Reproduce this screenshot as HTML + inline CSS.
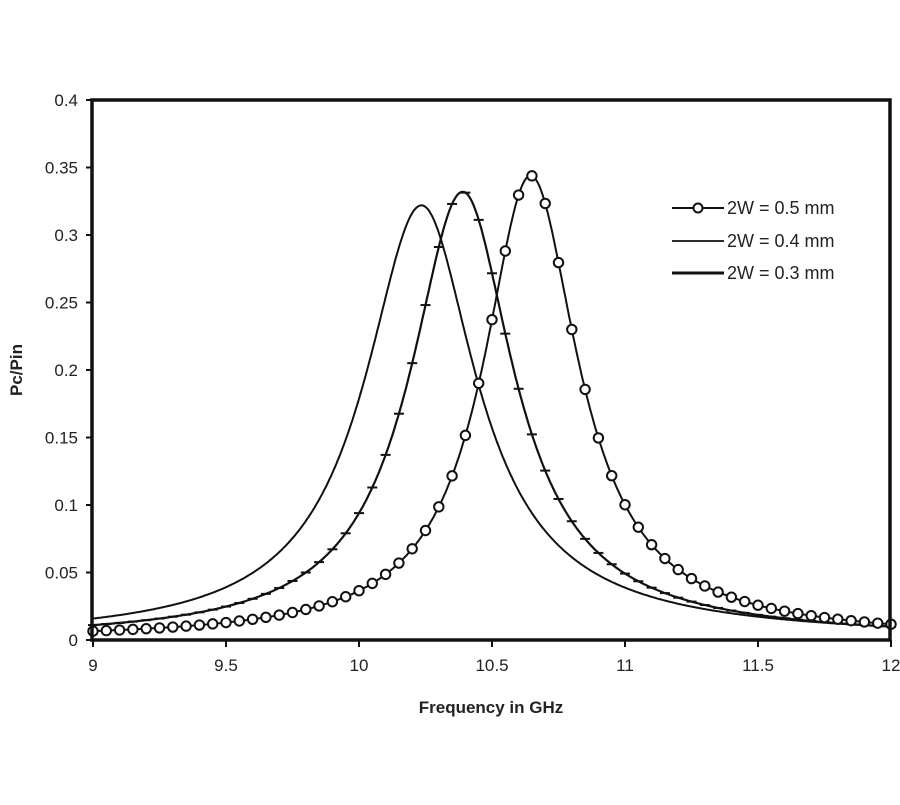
<!DOCTYPE html>
<html><head><meta charset="utf-8"><style>
body{margin:0;background:#fff}
svg{font-family:"Liberation Sans",Arial,sans-serif}
</style></head><body>
<svg id="s" width="900" height="800" viewBox="0 0 900 800" xmlns="http://www.w3.org/2000/svg">
<rect width="900" height="800" fill="#fff"/>
<g id="curves"></g>
<rect x="92" y="100" width="798" height="540" fill="none" stroke="#111" stroke-width="3.5"/>
<g id="axes" stroke="#111" stroke-width="2"></g>
<g font-size="17" fill="#222" id="labels"></g>
<text x="491" y="713" font-size="17" font-weight="bold" text-anchor="middle" fill="#222">Frequency in GHz</text>
<text transform="translate(22,370) rotate(-90)" font-size="17" font-weight="bold" text-anchor="middle" fill="#222">Pc/Pin</text>
<g font-size="18" fill="#222">
<line x1="672" y1="208" x2="724" y2="208" stroke="#111" stroke-width="2"/>
<circle cx="698" cy="208" r="4.5" fill="#fff" stroke="#111" stroke-width="2"/>
<text x="727" y="214">2W = 0.5 mm</text>
<line x1="672" y1="241" x2="724" y2="241" stroke="#111" stroke-width="1.8"/>
<text x="727" y="247">2W = 0.4 mm</text>
<line x1="672" y1="273" x2="724" y2="273" stroke="#111" stroke-width="3"/>
<text x="727" y="279">2W = 0.3 mm</text>
</g>
</svg>
<script>
var X=f=>93+(f-9)*266, Y=v=>640-v*1350;
function mk(P,f0,gL,nL,gR,nR){return f=>{var d=f-f0,g=d<0?gL:gR,n=d<0?nL:nR;return P/Math.pow(1+(d/g)*(d/g),n/2);}}
var A=mk(0.322,10.235,0.25,1.86,0.23,1.70),B=mk(0.332,10.39,0.233,1.89,0.216,1.74),C=mk(0.344,10.645,0.211,1.92,0.205,1.78);
function path(fn){var p="";for(var f=9;f<=12.0001;f+=0.005){p+=(p?"L":"M")+X(f).toFixed(1)+","+Y(fn(f)).toFixed(1);}return p;}
var g=document.getElementById("curves"),h="";
h+='<path d="'+path(A)+'" fill="none" stroke="#111" stroke-width="2"/>';
h+='<path d="'+path(B)+'" fill="none" stroke="#111" stroke-width="2.2"/>';
h+='<path d="'+path(C)+'" fill="none" stroke="#111" stroke-width="2"/>';
for(var f=9;f<=12.0001;f+=0.05){var x=X(f),y=Y(B(f));h+='<line x1="'+(x-5)+'" y1="'+y+'" x2="'+(x+5)+'" y2="'+y+'" stroke="#111" stroke-width="2"/>';}
for(var f=9;f<=12.0001;f+=0.05){h+='<circle cx="'+X(f)+'" cy="'+Y(C(f))+'" r="4.7" fill="#fff" stroke="#111" stroke-width="2"/>';}
g.innerHTML=h;
var a="",l="";
for(var i=0;i<=8;i++){var v=i*0.05,y=Y(v);a+='<line x1="86" y1="'+y+'" x2="92" y2="'+y+'"/>';l+='<text x="78" y="'+(y+6)+'" text-anchor="end">'+(i==0?"0":(+v.toFixed(2)).toString())+'</text>';}
for(var i=0;i<=6;i++){var f=9+i*0.5,x=X(f);a+='<line x1="'+x+'" y1="640" x2="'+x+'" y2="647"/>';l+='<text x="'+x+'" y="671" text-anchor="middle">'+f+'</text>';}
document.getElementById("axes").innerHTML=a;document.getElementById("labels").innerHTML=l;
</script>
</body></html>
